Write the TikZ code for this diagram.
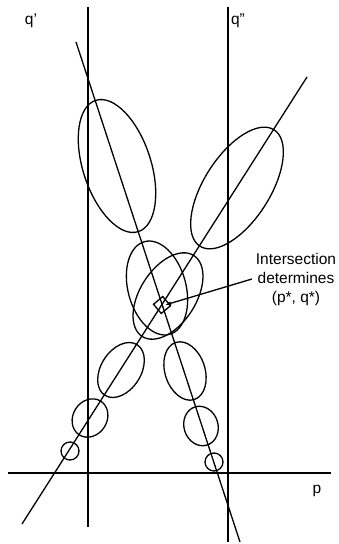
\documentclass[tikz,border=0pt]{standalone}
\usepackage{fontspec}
\setmainfont{Liberation Sans}
\usetikzlibrary{arrows.meta}

\begin{document}
\begin{tikzpicture}[x=1pt, y=1pt, line width=1.3pt, font=\fontsize{15.5}{19}\selectfont, >={Latex[length=6pt,width=4pt]},
  guide/.style={line width=1.6pt},
  est/.style={line width=1.3pt}]
\useasboundingbox (0,0) rectangle (339,-544);
% axes
\coordinate (qa top) at (88,-7);
\coordinate (qa bot) at (88,-527);
\coordinate (qb top) at (228,-7);
\coordinate (qb bot) at (228,-542);
\coordinate (p left) at (8,-473);
\coordinate (p right) at (331,-473);
\draw[guide] (qa top) -- (qa bot);
\draw[guide] (qb top) -- (qb bot);
\draw[guide] (p left) -- (p right);
\node (qa) at (31,-21) {q'};
\node (qb) at (238,-21) {q''};
\node (p) at (317,-491) {p};
% estimate lines
\coordinate (la top) at (76,-42);
\coordinate (la bot) at (240,-542);
\coordinate (lb top) at (307,-77);
\coordinate (lb bot) at (22,-524);
\draw[est] (la top) -- (la bot);
\draw[est] (lb top) -- (lb bot);
% ellipses
\foreach \cx/\cy/\a/\b/\ang in {117/166/69/34/-72, 237/188/69/33/57.5, 157/288/48/29/-75, 168/296/48/28/57.5,
  185/371/30/20/-72, 121/370/30/20/57.5, 201/426/20/17/-72, 90/418/20/17/57.5, 214/462/9/9/0, 70/451/9/9/0}
  \draw[est, rotate around={\ang:(\cx,-\cy)}] (\cx,-\cy) ellipse [x radius=\a, y radius=\b];
\node[draw, est, minimum size=12pt, rotate=40, inner sep=0pt] (sq) at (162,-305) {};
\node[align=center] (lbl) at (296,-279) {Intersection\\determines\\(p*, q*)};
\draw[est, ->] (lbl.west) -- ([xshift=3pt]sq.center);
\end{tikzpicture}
\end{document}
